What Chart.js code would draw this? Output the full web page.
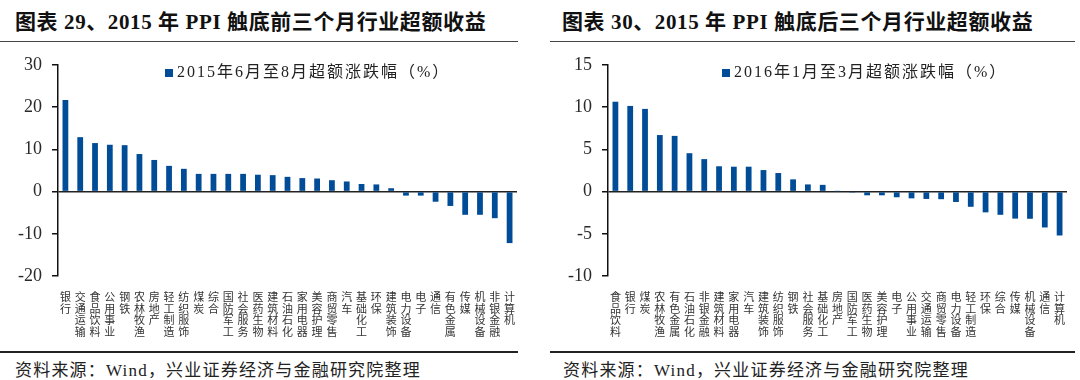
<!DOCTYPE html>
<html>
<head>
<meta charset="utf-8">
<script src="https://cdn.jsdelivr.net/npm/chart.js@4.4.1/dist/chart.umd.min.js"></script>
<style>
  html, body { margin:0; padding:0; background:#fff; }
  body { width:1080px; height:380px; position:relative; overflow:hidden;
         font-family:'Liberation Serif','Noto Sans CJK SC',serif; color:#111; }
  .title { position:absolute; top:5px; font-size:21px; font-weight:bold; white-space:nowrap; letter-spacing:0.6px; }
  .rule-top { position:absolute; top:41px; height:1px; background:#444; }
  .rule-bot { position:absolute; top:351px; height:2px; background:#222; }
  .source { position:absolute; top:356px; font-size:17px; white-space:nowrap; color:#222; letter-spacing:1.2px; }
  .box { position:absolute; top:40px; width:530px; height:310px; }
</style>
</head>
<body>
<div class="title" style="left:15px">图表 29、2015 年 PPI 触底前三个月行业超额收益</div>
<div class="title" style="left:562px">图表 30、2015 年 PPI 触底后三个月行业超额收益</div>
<div class="rule-top" style="left:0;width:518px"></div>
<div class="rule-top" style="left:550px;width:525px"></div>
<div class="box" style="left:0"><canvas id="leftChart"></canvas></div>
<div class="box" style="left:550px"><canvas id="rightChart"></canvas></div>
<div class="rule-bot" style="left:0;width:518px"></div>
<div class="rule-bot" style="left:550px;width:525px"></div>
<div class="source" style="left:15px">资料来源：Wind，兴业证券经济与金融研究院整理</div>
<div class="source" style="left:563px">资料来源：Wind，兴业证券经济与金融研究院整理</div>

<script>
// ---------- Data ----------
const leftLabel = '2015年6月至8月超额涨跌幅（%）';
const leftCats = ['银行','交通运输','食品饮料','公用事业','钢铁','农林牧渔','房地产','轻工制造','纺织服饰','煤炭',
  '综合','国防军工','社会服务','医药生物','建筑材料','石油石化','家用电器','美容护理','商贸零售','汽车',
  '基础化工','环保','建筑装饰','电力设备','电子','通信','有色金属','传媒','机械设备','非银金融','计算机'];
const leftVals = [21.7, 12.9, 11.5, 11.1, 11.0, 8.9, 7.5, 6.1, 5.4, 4.2,
  4.2, 4.2, 4.2, 4.0, 3.9, 3.5, 3.2, 3.1, 2.7, 2.4,
  1.8, 1.7, 0.8, -0.95, -0.95, -2.4, -3.4, -5.5, -5.5, -6.3, -12.2];
const leftTicks = {min: -20, max: 30, step: 10};

const rightLabel = '2016年1月至3月超额涨跌幅（%）';
const rightCats = ['食品饮料','银行','煤炭','农林牧渔','有色金属','石油石化','非银金融','建筑材料','家用电器','汽车',
  '建筑装饰','纺织服饰','钢铁','社会服务','基础化工','房地产','国防军工','医药生物','美容护理','电子',
  '公用事业','交通运输','商贸零售','电力设备','轻工制造','环保','综合','传媒','机械设备','通信','计算机'];
const rightVals = [10.65, 10.15, 9.8, 6.7, 6.6, 4.55, 3.85, 3.0, 2.95, 2.95,
  2.55, 2.2, 1.45, 0.85, 0.8, 0.03, -0.03, -0.44, -0.44, -0.67,
  -0.8, -0.87, -0.9, -1.23, -1.8, -2.46, -2.75, -3.2, -3.22, -4.25, -5.2];
const rightTicks = {min: -10, max: 15, step: 5};

const BAR_COLOR = '#004C97';
const LATIN = "'Liberation Serif'";
const CJK = "'Noto Sans CJK SC'";

// legend drawn inside the plot, like the original
const innerLegend = {
  id: 'innerLegend',
  afterDraw(chart, args, opts) {
    const ctx = chart.ctx;
    const ds = chart.data.datasets[0];
    ctx.save();
    ctx.fillStyle = ds.backgroundColor;
    ctx.fillRect(opts.x, opts.y - 4, 8, 8);
    ctx.fillStyle = '#222';
    ctx.font = `16px ${LATIN}, ${CJK}`;
    ctx.letterSpacing = '2px';
    ctx.textBaseline = 'middle';
    ctx.fillText(ds.label, opts.x + 12, opts.y);
    ctx.restore();
  }
};

function makeChart(id, cats, vals, label, ticks, legendX) {
  return new Chart(document.getElementById(id), {
    type: 'bar',
    data: {
      labels: cats.map(c => c.split('')),
      datasets: [{ label, data: vals, backgroundColor: BAR_COLOR,
        barPercentage: 0.39, categoryPercentage: 1.0 }]
    },
    plugins: [innerLegend],
    options: {
      responsive: true,
      maintainAspectRatio: false,
      animation: false,
      layout: { padding: { top: 25, right: 13, left: 0, bottom: 0 } },
      plugins: {
        legend: { display: false },
        tooltip: { enabled: false },
        innerLegend: { x: legendX, y: 33 }
      },
      scales: {
        x: {
          grid: { display: false },
          border: { display: false },
          afterFit: s => { s.height = 74; },
          ticks: {
            autoSkip: false, maxRotation: 0, minRotation: 0, padding: 7,
            color: '#333',
            font: { family: CJK, size: 11, lineHeight: 1.05 }
          }
        },
        y: {
          min: ticks.min, max: ticks.max,
          afterFit: s => { s.width = 58; },
          border: { display: true, color: '#111', width: 1.5 },
          grid: {
            color: c => c.tick && c.tick.value === 0 ? '#222' : 'rgba(0,0,0,0)',
            lineWidth: 1.5,
            drawTicks: true, tickLength: 6, tickColor: '#111', tickWidth: 1.5
          },
          ticks: {
            stepSize: ticks.step, padding: 10, color: '#2a2a2a',
            font: { family: LATIN, size: 18 }
          }
        }
      }
    }
  });
}

makeChart('leftChart', leftCats, leftVals, leftLabel, leftTicks, 165);
makeChart('rightChart', rightCats, rightVals, rightLabel, rightTicks, 172);
</script>
</body>
</html>
